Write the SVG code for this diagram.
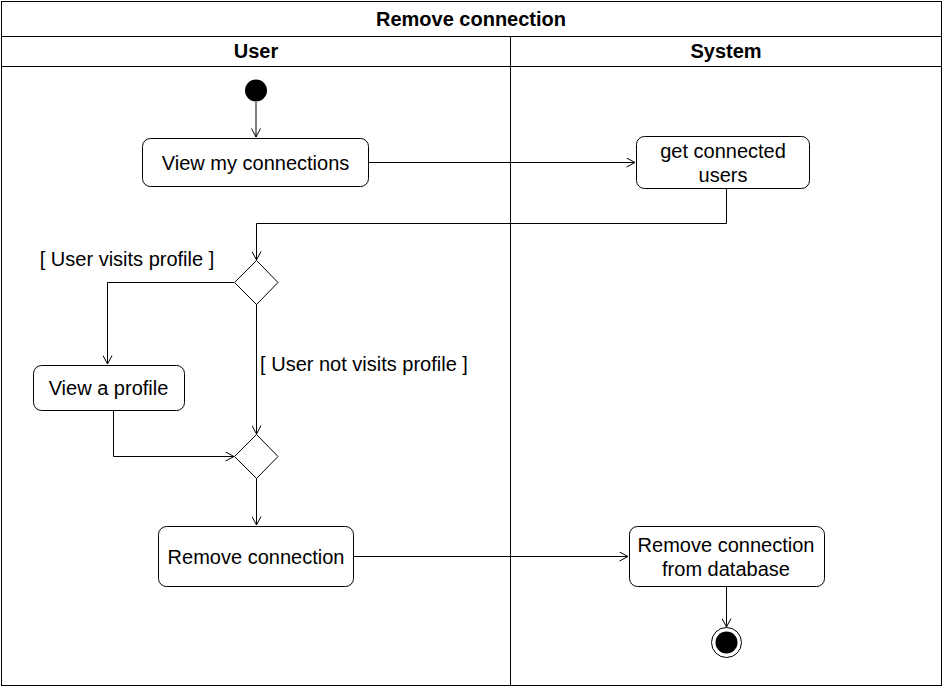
<svg xmlns="http://www.w3.org/2000/svg" width="943" height="687" viewBox="0 0 943 687">
<style>
.t{font-family:"Liberation Sans",Arial,sans-serif;font-size:20px;fill:#000;text-anchor:middle}
.b{font-weight:bold}
.n{fill:#fff;stroke:#000;stroke-width:1}
.e{fill:none;stroke:#000;stroke-width:1}
</style>
<defs>
<marker id="a" viewBox="0 0 10 10" refX="9.5" refY="5" markerWidth="10" markerHeight="10" markerUnits="userSpaceOnUse" orient="auto">
<path d="M1,0.5 L9.5,5 L1,9.5" fill="none" stroke="#000" stroke-width="1"/>
</marker>
</defs>
<rect x="0" y="0" width="943" height="687" fill="#fff"/>
<g id="pool">
<rect x="1.5" y="1.5" width="940" height="684" class="e"/>
<line x1="1.5" y1="36.5" x2="941.5" y2="36.5" class="e"/>
<line x1="1.5" y1="66.5" x2="941.5" y2="66.5" class="e"/>
<line x1="510.5" y1="36.5" x2="510.5" y2="685.5" class="e"/>
<text x="471" y="26" class="t b">Remove connection</text>
<text x="256" y="58" class="t b">User</text>
<text x="726" y="58" class="t b">System</text>
</g>
<g id="edges">
<path d="M256,102 V137" class="e" marker-end="url(#a)"/>
<path d="M368.5,162.5 H635" class="e" marker-end="url(#a)"/>
<path d="M726.5,188 V223.5 H256.5 V260" class="e" marker-end="url(#a)"/>
<path d="M234,282.5 H107.5 V364" class="e" marker-end="url(#a)"/>
<path d="M256.5,304 V434" class="e" marker-end="url(#a)"/>
<path d="M113.5,410 V456.5 H234" class="e" marker-end="url(#a)"/>
<path d="M256.5,478 V525" class="e" marker-end="url(#a)"/>
<path d="M353,556.5 H628" class="e" marker-end="url(#a)"/>
<path d="M726.5,586 V627" class="e" marker-end="url(#a)"/>
<text x="127" y="266" class="t">[ User visits profile ]</text>
<text x="364" y="371" class="t">[ User not visits profile ]</text>
</g>
<g id="start"><circle cx="256" cy="90.5" r="11" fill="#000"/></g>
<g id="view-connections"><rect x="142.5" y="138.5" width="226" height="48" rx="8" class="n"/><text x="255.5" y="170" class="t">View my connections</text></g>
<g id="get-users"><rect x="636.5" y="136.5" width="173" height="52" rx="8" class="n"/><text x="723" y="158" class="t">get connected</text><text x="723" y="182" class="t">users</text></g>
<g id="decision"><path d="M256.5,260.5 L278,282.5 L256.5,304.5 L234.5,282.5 Z" class="n"/></g>
<g id="view-profile"><rect x="33.5" y="365.5" width="151" height="45" rx="8" class="n"/><text x="108.5" y="395" class="t">View a profile</text></g>
<g id="merge"><path d="M256.5,434.5 L278,456.5 L256.5,478.5 L234.5,456.5 Z" class="n"/></g>
<g id="remove-connection"><rect x="158.5" y="526.5" width="195" height="60" rx="8" class="n"/><text x="256" y="564" class="t">Remove connection</text></g>
<g id="remove-db"><rect x="629.5" y="526.5" width="195" height="60" rx="8" class="n"/><text x="726" y="552" class="t">Remove connection</text><text x="726" y="576" class="t">from database</text></g>
<g id="end"><circle cx="726.5" cy="642.5" r="15" fill="#fff" stroke="#000"/><circle cx="726.5" cy="642.5" r="11" fill="#000"/></g>
</svg>
